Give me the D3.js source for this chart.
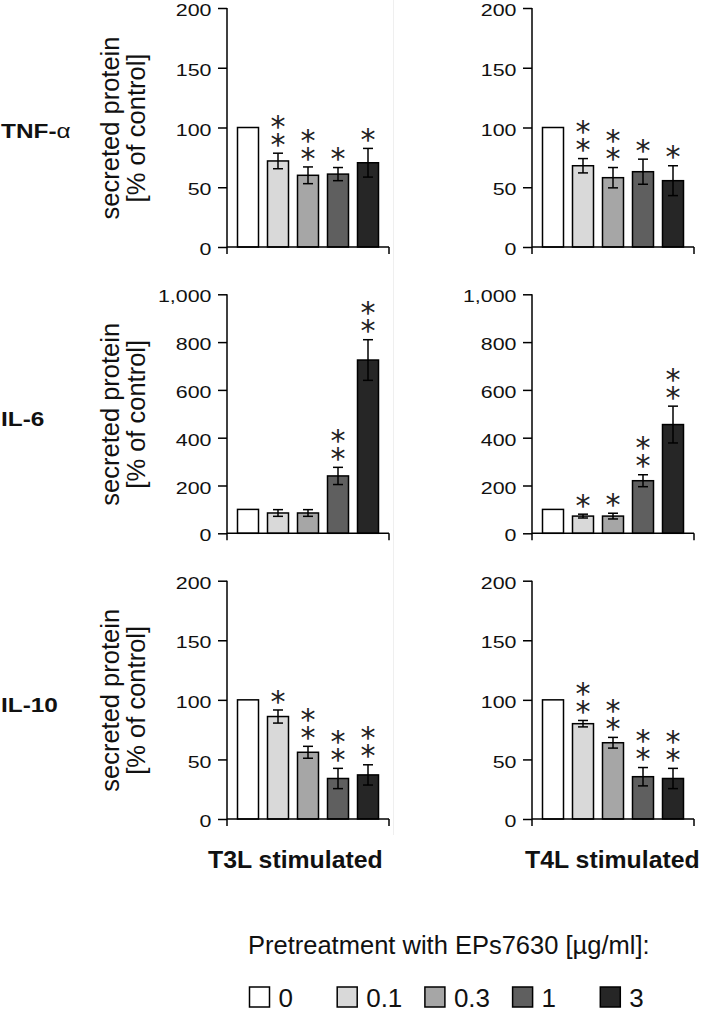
<!DOCTYPE html>
<html><head><meta charset="utf-8">
<script src="https://cdn.jsdelivr.net/npm/d3@7"></script>
<style>body{margin:0;background:#fff}svg{display:block}</style>
</head><body>
<svg id="c" width="704" height="1012"></svg>
<script>
// ---------- data ----------
const doses = ["0", "0.1", "0.3", "1", "3"];
const doseColors = ["#ffffff", "#d9d9d9", "#a6a6a6", "#5f5f5f", "#262626"];
const cytokines = ["TNF-", "IL-6", "IL-10"];
const stimuli = ["T3L stimulated", "T4L stimulated"];
const yMax = [200, 1000, 200];
const yTicks = [[0, 50, 100, 150, 200], [0, 200, 400, 600, 800, 1000], [0, 50, 100, 150, 200]];

const tnfT3L = [100, 72, 60, 61, 70.5];
const tnfT3LErr = [0, 6.5, 7, 5.5, 12];
const tnfT3LStars = [0, 2, 2, 1, 1];
const tnfT4L = [100, 68, 58, 63, 55.5];
const tnfT4LErr = [0, 6, 8.5, 10.5, 12.5];
const tnfT4LStars = [0, 2, 2, 1, 1];

const il6T3L = [100, 85, 85, 240, 725];
const il6T3LErr = [0, 14, 14, 36, 85];
const il6T3LStars = [0, 0, 0, 2, 2];
const il6T4L = [100, 72, 72, 220, 455];
const il6T4LErr = [0, 8, 12, 25, 77];
const il6T4LStars = [0, 1, 1, 2, 2];

const il10T3L = [100, 86, 56, 34, 37];
const il10T3LErr = [0, 5.5, 5, 8.5, 8.5];
const il10T3LStars = [0, 1, 2, 2, 2];
const il10T4L = [100, 80, 64, 35.5, 34];
const il10T4LErr = [0, 2.7, 4.5, 7.7, 8.5];
const il10T4LStars = [0, 2, 2, 2, 2];

const yLabel1 = "secreted protein";
const yLabel2 = "[% of control]";
const legendTitle = "Pretreatment with EPs7630 [µg/ml]:";

// ---------- layout ----------
const svg = d3.select("#c");
const FONT = "'Liberation Sans', Arial, Helvetica, sans-serif";
const colX = [227, 532];
const rowY = [[8, 247], [294.3, 533.3], [580.7, 819]];
const plotW = 162;
const STAR_FS = 30, STAR_STEP = 18, STAR_ADV = 0.5 * STAR_FS;

svg.append("rect").attr("width", 704).attr("height", 1012).attr("fill", "#fff");
svg.append("line").attr("x1", 393.5).attr("x2", 393.5).attr("y1", 0).attr("y2", 835)
  .attr("stroke", "#efefef").attr("stroke-width", 1);

const panels = [
  {r: 0, c: 0, v: tnfT3L, e: tnfT3LErr, s: tnfT3LStars},
  {r: 0, c: 1, v: tnfT4L, e: tnfT4LErr, s: tnfT4LStars},
  {r: 1, c: 0, v: il6T3L, e: il6T3LErr, s: il6T3LStars},
  {r: 1, c: 1, v: il6T4L, e: il6T4LErr, s: il6T4LStars},
  {r: 2, c: 0, v: il10T3L, e: il10T3LErr, s: il10T3LStars},
  {r: 2, c: 1, v: il10T4L, e: il10T4LErr, s: il10T4LStars}
];

panels.forEach(p => {
  const x0 = colX[p.c], yt = rowY[p.r][0], yb = rowY[p.r][1];
  const x = d3.scaleBand().domain(doses).range([x0, x0 + plotW]).paddingInner(0.3).paddingOuter(0.35);
  const y = d3.scaleLinear().domain([0, yMax[p.r]]).range([yb, yt]);
  const g = svg.append("g");
  const rows = doses.map((d, i) => ({d, i, v: p.v[i], e: p.e[i], s: p.s[i]}));

  g.selectAll("rect.bar").data(rows).join("rect").attr("class", "bar")
    .attr("x", d => x(d.d)).attr("width", x.bandwidth())
    .attr("y", d => y(d.v)).attr("height", d => y(0) - y(d.v))
    .attr("fill", d => doseColors[d.i]).attr("stroke", "#000").attr("stroke-width", 1.5);

  const eb = rows.filter(d => d.e > 0);
  const cx = d => x(d.d) + x.bandwidth() / 2;
  g.selectAll("line.err").data(eb).join("line").attr("class", "err")
    .attr("x1", cx).attr("x2", cx).attr("y1", d => y(d.v + d.e)).attr("y2", d => y(d.v - d.e))
    .attr("stroke", "#000").attr("stroke-width", 1.5);
  g.selectAll("line.capt").data(eb).join("line").attr("class", "capt")
    .attr("x1", d => cx(d) - 5).attr("x2", d => cx(d) + 5)
    .attr("y1", d => y(d.v + d.e)).attr("y2", d => y(d.v + d.e))
    .attr("stroke", "#000").attr("stroke-width", 1.5);
  g.selectAll("line.capb").data(eb).join("line").attr("class", "capb")
    .attr("x1", d => cx(d) - 5).attr("x2", d => cx(d) + 5)
    .attr("y1", d => y(d.v - d.e)).attr("y2", d => y(d.v - d.e))
    .attr("stroke", "#000").attr("stroke-width", 1.5);

  // asterisks: one string per bar, running downwards; glyphs turned back upright
  g.selectAll("text.star").data(rows.filter(d => d.s > 0)).join("text").attr("class", "star")
    .attr("transform", d => {
      const lowC = y(d.v + d.e) - 15.5;
      const topC = lowC - (d.s - 1) * STAR_STEP;
      return `translate(${cx(d) - 0.25 * STAR_FS},${topC + 0.57 * STAR_FS}) rotate(90)`;
    })
    .attr("rotate", -90)
    .attr("font-family", "'DejaVu Sans', sans-serif").attr("font-size", STAR_FS)
    .attr("letter-spacing", STAR_STEP - STAR_ADV).attr("fill", "#222")
    .text(d => "*".repeat(d.s));

  // axis
  const ax = d3.axisLeft(y).tickValues(yTicks[p.r]).tickSize(9).tickSizeOuter(0).tickFormat(d3.format(","));
  const ag = g.append("g").attr("transform", `translate(${x0},0)`).call(ax);
  ag.attr("font-family", null).attr("font-size", null);
  ag.select(".domain").remove();
  ag.selectAll(".tick line").attr("stroke", "#000").attr("stroke-width", 1.5);
  ag.selectAll(".tick text").attr("x", 0).attr("dy", "0.45em").attr("fill", "#111")
    .attr("font-family", FONT).attr("font-size", 17)
    .attr("transform", "translate(-15.5,0) scale(1.26,1)");
  g.append("line").attr("x1", x0).attr("x2", x0).attr("y1", yt).attr("y2", yb + 7)
    .attr("stroke", "#000").attr("stroke-width", 1.5);
  g.append("line").attr("x1", x0).attr("x2", x0 + plotW).attr("y1", yb).attr("y2", yb)
    .attr("stroke", "#000").attr("stroke-width", 1.5);
  g.append("line").attr("x1", x0 + plotW).attr("x2", x0 + plotW).attr("y1", yb).attr("y2", yb + 7)
    .attr("stroke", "#000").attr("stroke-width", 1.5);

  if (p.c === 0) {
    const cy = (yt + yb) / 2 + 0.5;
    [[yLabel1, 119], [yLabel2, 144.5]].forEach(([t, bx]) => {
      g.append("text").attr("transform", `translate(${bx},${cy}) rotate(-90)`)
        .attr("text-anchor", "middle").attr("font-family", FONT).attr("font-size", 25.5)
        .attr("fill", "#111").text(t);
    });
  }
});

// row labels
const rowBase = [137.5, 425.5, 712];
cytokines.forEach((c, i) => {
  const t = svg.append("text").attr("transform", `translate(1,${rowBase[i]}) scale(1.19,1)`)
    .attr("font-family", FONT).attr("font-size", 20.5).attr("font-weight", "bold").attr("fill", "#111");
  t.append("tspan").text(c);
  if (i === 0) t.append("tspan").attr("font-weight", "normal").text("α");
});

// column labels
const colLabelX = [208, 525];
stimuli.forEach((s, i) => {
  svg.append("text").attr("transform", `translate(${colLabelX[i]},868) scale(1.08,1)`)
    .attr("font-family", FONT).attr("font-size", 23).attr("font-weight", "bold").attr("fill", "#111").text(s);
});

// legend
svg.append("text").attr("x", 248).attr("y", 954).attr("font-family", FONT).attr("font-size", 25.5)
  .attr("fill", "#111").text(legendTitle);
const lg = svg.append("g");
doses.forEach((d, i) => {
  const sx = 249.5 + i * 87.7;
  lg.append("rect").attr("x", sx).attr("y", 987).attr("width", 20).attr("height", 20)
    .attr("fill", doseColors[i]).attr("stroke", "#000").attr("stroke-width", 1.5);
  lg.append("text").attr("x", sx + 29).attr("y", 1007).attr("font-family", FONT).attr("font-size", 26)
    .attr("fill", "#111").text(d);
});
</script>
</body></html>
